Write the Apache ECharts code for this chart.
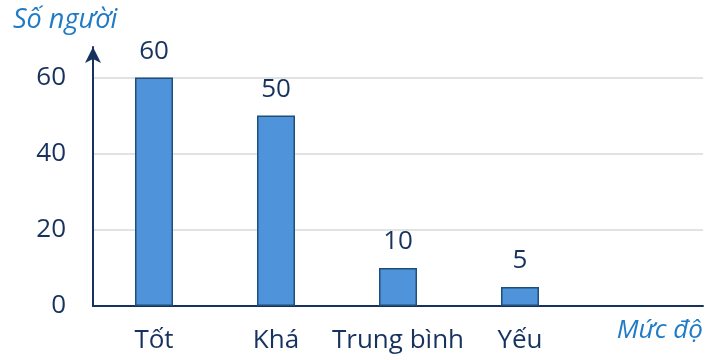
<!DOCTYPE html>
<html><head><meta charset="utf-8">
<script src="https://cdn.jsdelivr.net/npm/echarts@6/dist/echarts.min.js"></script>
<style>html,body{margin:0;padding:0;background:#fff}#c{width:706px;height:360px}</style>
</head><body><div id="c"></div>
<script>
const categories = ['Tốt', 'Khá', 'Trung bình', 'Yếu'];
const values = [60, 50, 10, 5];
const yTicks = [0, 20, 40, 60];
const yName = 'Số người';
const xName = 'Mức độ';

const axisCats = categories.concat(['']);
const font = 'Open Sans';
const navy = '#17325f';
const chart = echarts.init(document.getElementById('c'));
chart.setOption({
  animation: false,
  title: { text: yName, left: 8, top: 2, textStyle: { fontFamily: font, fontStyle: 'italic', fontWeight: 'normal', fontSize: 27, color: '#1f7bc6' } },
  grid: [
    { left: 93, right: 3, top: 47, bottom: 54 },
    { left: 93, right: 3, top: 78, bottom: 54 }
  ],
  xAxis: [
    { gridIndex: 0, type: 'category', data: axisCats,
      axisLine: { lineStyle: { color: navy, width: 2 } }, axisTick: { show: false },
      axisLabel: { interval: 0, color: navy, fontFamily: font, fontSize: 26, margin: 22 },
      name: xName, nameLocation: 'end', nameGap: 0,
      nameTextStyle: { fontFamily: font, fontStyle: 'italic', fontSize: 26, color: '#1f7bc6', align: 'right', verticalAlign: 'top', padding: [12, 0, 0, 0] } },
    { gridIndex: 1, type: 'category', data: axisCats, show: false }
  ],
  yAxis: [
    { gridIndex: 0, type: 'value', min: 0, max: 68, interval: 20,
      axisLine: { show: true, symbol: ['none', 'arrow'], symbolSize: [12, 16], lineStyle: { color: navy, width: 2 } },
      axisTick: { show: false }, splitLine: { show: false },
      axisLabel: { showMaxLabel: false, color: navy, fontFamily: font, fontSize: 26, margin: 27,
        formatter: v => yTicks.indexOf(v) >= 0 ? String(v) : '' } },
    { gridIndex: 1, type: 'value', min: yTicks[0], max: yTicks[yTicks.length - 1], interval: 20,
      axisLine: { show: false }, axisTick: { show: false }, axisLabel: { show: false },
      splitLine: { show: true, lineStyle: { color: '#d9d9d9', width: 1.5 } } }
  ],
  series: [{
    type: 'bar', xAxisIndex: 0, yAxisIndex: 0, data: values, barWidth: 38,
    itemStyle: { color: '#4f94da', borderColor: '#1f4e79', borderWidth: 1.5 },
    label: { show: true, position: 'top', distance: 13, color: navy, fontFamily: font, fontSize: 26 }
  }]
});
</script></body></html>
